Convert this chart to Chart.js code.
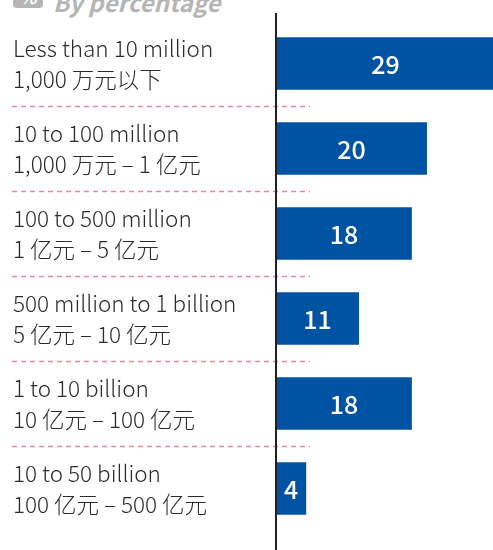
<!DOCTYPE html>
<html>
<head>
<meta charset="utf-8">
<script src="https://cdn.jsdelivr.net/npm/chart.js@4/dist/chart.umd.min.js"></script>
<style>
  html, body { margin: 0; padding: 0; background: #fff; }
  #wrap { position: relative; width: 493px; height: 550px; overflow: hidden; }
  #head { position: absolute; left: 13px; top: -16px; font-family: "Noto Sans CJK SC", "Noto Sans", sans-serif;
          font-style: italic; font-weight: bold; font-size: 24px; color: #b5b5b5; white-space: nowrap; }
  #head .pct { display: inline-block; background: #b5b5b5; color: #fff; border-radius: 4px;
               width: 30px; height: 24px; line-height: 24px; text-align: center; font-size: 18px; margin-right: 10px; vertical-align: top; }
  canvas { position: absolute; left: 0; top: 0; }
</style>
</head>
<body>
<div id="wrap">
  <div id="head"><span class="pct">%</span>By percentage</div>
  <canvas id="myChart" width="493" height="550"></canvas>
</div>
<script>
var labelsEn = ['Less than 10 million', '10 to 100 million', '100 to 500 million',
                '500 million to 1 billion', '1 to 10 billion', '10 to 50 billion'];
var labelsCn = ['1,000 万元以下', '1,000 万元 – 1 亿元', '1 亿元 – 5 亿元',
                '5 亿元 – 10 亿元', '10 亿元 – 100 亿元', '100 亿元 – 500 亿元'];
var shares = [29, 20, 18, 11, 18, 4];

var labels = [];
for (var i = 0; i < labelsEn.length; i++) {
    labels.push([labelsEn[i], labelsCn[i]]);
}

var fontFamily = '"Noto Sans CJK SC", "Noto Sans", sans-serif';

// white value inside each bar
var valueLabels = {
    id: 'valueLabels',
    afterDatasetsDraw: function(chart) {
        var ctx = chart.ctx;
        var meta = chart.getDatasetMeta(0);
        ctx.save();
        ctx.fillStyle = '#ffffff';
        ctx.font = '500 25px ' + fontFamily;
        ctx.textAlign = 'center';
        ctx.textBaseline = 'middle';
        meta.data.forEach(function(bar, idx) {
            var cx = (bar.x + bar.base) / 2;
            ctx.fillText(String(shares[idx]), cx, bar.y + 1);
        });
        ctx.restore();
    }
};

// dashed separators between rows and the vertical axis line
var decorations = {
    id: 'decorations',
    afterDraw: function(chart) {
        var ctx = chart.ctx;
        var y = chart.scales.y;
        var area = chart.chartArea;
        ctx.save();
        ctx.strokeStyle = '#e8899b';
        ctx.lineWidth = 1.5;
        ctx.setLineDash([5, 4]);
        for (var i = 0; i < labels.length - 1; i++) {
            var py = Math.round((y.getPixelForValue(i) + y.getPixelForValue(i + 1)) / 2) + 0.5;
            ctx.beginPath();
            ctx.moveTo(12, py);
            ctx.lineTo(area.left + 34, py);
            ctx.stroke();
        }
        ctx.setLineDash([]);
        ctx.strokeStyle = '#231f20';
        ctx.lineWidth = 2;
        ctx.beginPath();
        ctx.moveTo(area.left, 13);
        ctx.lineTo(area.left, chart.height);
        ctx.stroke();
        ctx.restore();
    }
};

var ctx = document.getElementById('myChart').getContext('2d');
var myChart = new Chart(ctx, {
    type: 'bar',
    data: {
        labels: labels,
        datasets: [{
            data: shares,
            backgroundColor: '#0052a3',
            barPercentage: 0.62,
            categoryPercentage: 1
        }]
    },
    options: {
        indexAxis: 'y',
        responsive: false,
        animation: false,
        layout: { padding: { left: 13, top: 21, bottom: 19, right: 0 } },
        plugins: { legend: { display: false }, tooltip: { enabled: false } },
        scales: {
            x: { display: false, min: 0, max: 28.75 },
            y: {
                grid: { display: false, drawTicks: false },
                border: { display: false },
                ticks: {
                    crossAlign: 'far',
                    padding: 0,
                    color: '#2e2a2a',
                    font: { family: fontFamily, size: 22.5, weight: 300, lineHeight: 1.38 }
                },
                afterFit: function(scale) {
                    scale.width = 263;
                    scale.paddingTop = 0;
                    scale.paddingBottom = 0;
                }
            }
        }
    },
    plugins: [valueLabels, decorations]
});
</script>
</body>
</html>
